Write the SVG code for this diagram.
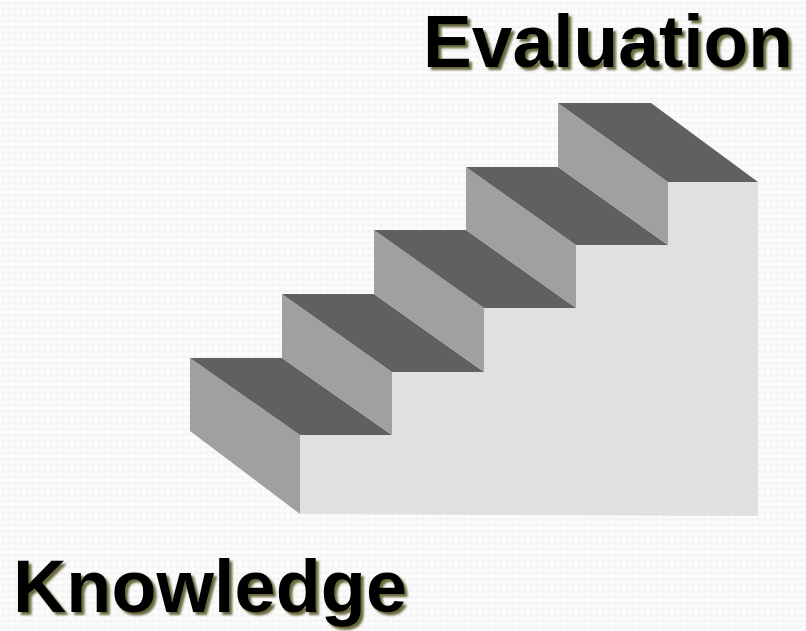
<svg xmlns="http://www.w3.org/2000/svg" width="806" height="631" viewBox="0 0 806 631">
  <defs>
    <pattern id="bg" width="6" height="6" patternUnits="userSpaceOnUse">
      <rect width="6" height="6" fill="#fbfbfb"/>
      <ellipse cx="3" cy="3" rx="2.2" ry="1.6" fill="#f3f3f3"/>
    </pattern>
    <filter id="shadow" x="-5%" y="-20%" width="115%" height="150%">
      <feGaussianBlur in="SourceAlpha" stdDeviation="1.3" result="b"/>
      <feOffset in="b" dx="3" dy="3" result="o"/>
      <feFlood flood-color="#5a5a2a" flood-opacity="0.9"/>
      <feComposite in2="o" operator="in" result="s"/>
      <feMerge><feMergeNode in="s"/><feMergeNode in="SourceGraphic"/></feMerge>
    </filter>
  </defs>
  <style>
    .top { fill: #606060; }
    .riser { fill: #a0a0a0; }
    .front { fill: #e0e0e0; }
    .label { font-family: "Liberation Sans", Arial, sans-serif; font-weight: bold; font-size: 75px; fill: #000; filter: url(#shadow); }
  </style>
  <rect width="806" height="631" fill="url(#bg)"/>

  <g id="stairs">
    <path class="front" d="M300,435 L392,435 L392,372 L484,372 L484,308 L576,308 L576,245 L668,245 L668,182 L758,182 L758,516 L300,514 Z"/>
    <polygon class="riser" points="190,358 300,435 300,514 190,431"/>
    <polygon class="top" points="190,358 282,358 392,435 300,435"/>
    <polygon class="riser" points="282,294 392,372 392,435 282,358"/>
    <polygon class="top" points="282,294 374,294 484,372 392,372"/>
    <polygon class="riser" points="374,230 484,308 484,372 374,294"/>
    <polygon class="top" points="374,230 466,230 576,308 484,308"/>
    <polygon class="riser" points="466,167 576,245 576,308 466,230"/>
    <polygon class="top" points="466,167 558,167 668,245 576,245"/>
    <polygon class="riser" points="558,103 668,182 668,245 558,167"/>
    <polygon class="top" points="558,103 651,103 758,182 668,182"/>
  </g>

  <g id="evaluation">
    <text class="label" x="423" y="67" textLength="370" lengthAdjust="spacingAndGlyphs">Evaluation</text>
  </g>
  <g id="knowledge">
    <text class="label" x="13" y="612" textLength="394" lengthAdjust="spacingAndGlyphs">Knowledge</text>
  </g>
</svg>
